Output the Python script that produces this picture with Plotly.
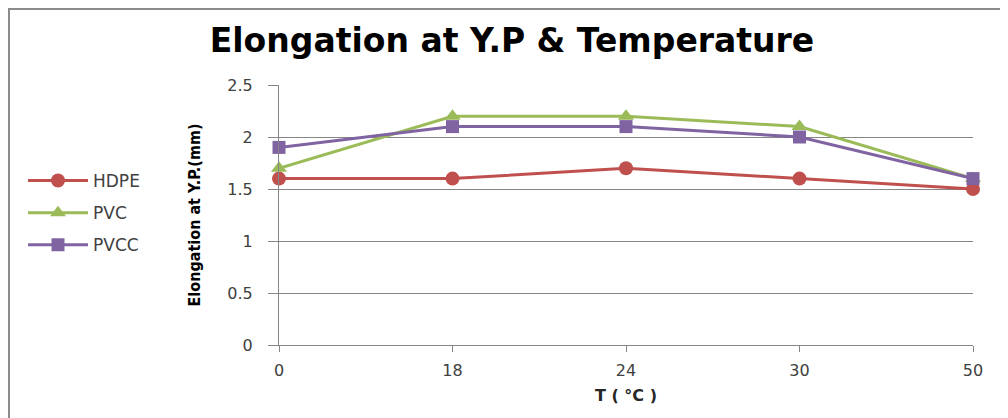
import plotly.graph_objects as go

temps = ["0", "18", "24", "30", "50"]
hdpe = [1.6, 1.6, 1.7, 1.6, 1.5]
pvc = [1.7, 2.2, 2.2, 2.1, 1.6]
pvcc = [1.9, 2.1, 2.1, 2.0, 1.6]
y_ticks = [0, 0.5, 1, 1.5, 2, 2.5]
y_tick_text = ["0", "0.5", "1", "1.5", "2", "2.5"]

# page body has an 8px margin; work in reference-screen coordinates
OFF = 8
W, H = 1008 - OFF, 418 - OFF
PL, PR, PT, PB = 279, 973, 85, 345  # plot area in screen coords
L = PL - OFF
T = PT - OFF
R = W - (PR - OFF)
B = H - (PB - OFF)
pw = W - L - R
ph = H - T - B


def px(xs):
    return (xs - PL) / pw


def py(ys):
    return (PB - ys) / ph


fig = go.Figure()
series = [
    ("HDPE", hdpe, "#C0504D", "circle", 14),
    ("PVC", pvc, "#9BBB59", "triangle-up", 14),
    ("PVCC", pvcc, "#8064A2", "square", 13),
]
for name, vals, col, sym, sz in series:
    fig.add_trace(go.Scatter(
        x=temps, y=vals, name=name, mode="lines+markers", legendgroup=name,
        line=dict(color=col, width=3),
        marker=dict(symbol=sym, size=sz, color=col),
        cliponaxis=False,
    ))

fig.update_layout(
    width=W, height=H,
    margin=dict(l=L, r=R, t=T, b=B, autoexpand=False),
    paper_bgcolor="white", plot_bgcolor="white",
    showlegend=True,
    title=dict(text="<b>Elongation at Y.P & Temperature</b>",
               font=dict(family="DejaVu Sans", size=33, color="black"),
               x=px(512), xanchor="center", xref="paper",
               y=1 - (40 - OFF) / H, yanchor="middle"),
    legend=dict(x=px(23), y=py(163), xanchor="left", yanchor="top",
                font=dict(family="DejaVu Sans", size=17, color="#404040"),
                bgcolor="rgba(0,0,0,0)", itemwidth=60,
                traceorder="grouped", tracegroupgap=7),
    xaxis=dict(type="category", range=[0, 4],
               showgrid=False, showline=True, linecolor="#868686", linewidth=1,
               ticks="outside", ticklen=6, tickcolor="#868686",
               ticklabelstandoff=5,
               tickfont=dict(family="DejaVu Sans", size=16, color="#404040"),
               title=dict(text="<b>T ( °C )</b>", standoff=10,
                          font=dict(family="DejaVu Sans", size=16, color="#262626")),
               zeroline=False),
    yaxis=dict(range=[0, 2.5], tickvals=y_ticks, ticktext=y_tick_text,
               showgrid=True, gridcolor="#868686", gridwidth=1,
               showline=True, linecolor="#868686", linewidth=1,
               ticks="outside", ticklen=10, tickcolor="#868686",
               ticklabelstandoff=12,
               tickfont=dict(family="DejaVu Sans", size=16, color="#404040"),
               title=dict(text="<b>Elongation at Y.P.(mm)</b>", standoff=22,
                          font=dict(family="DejaVu Sans Condensed, Roboto Condensed, Roboto, sans-serif",
                                    size=16, color="black")),
               zeroline=False),
)

fig.add_shape(type="line", xref="paper", yref="paper",
              x0=px(OFF), x1=px(1008), y0=py(OFF + 1), y1=py(OFF + 1),
              line=dict(color="#8C8C8C", width=2))
fig.add_shape(type="line", xref="paper", yref="paper",
              x0=px(OFF + 1), x1=px(OFF + 1), y0=py(OFF), y1=py(418),
              line=dict(color="#8C8C8C", width=2))

fig.write_html("out.html")
